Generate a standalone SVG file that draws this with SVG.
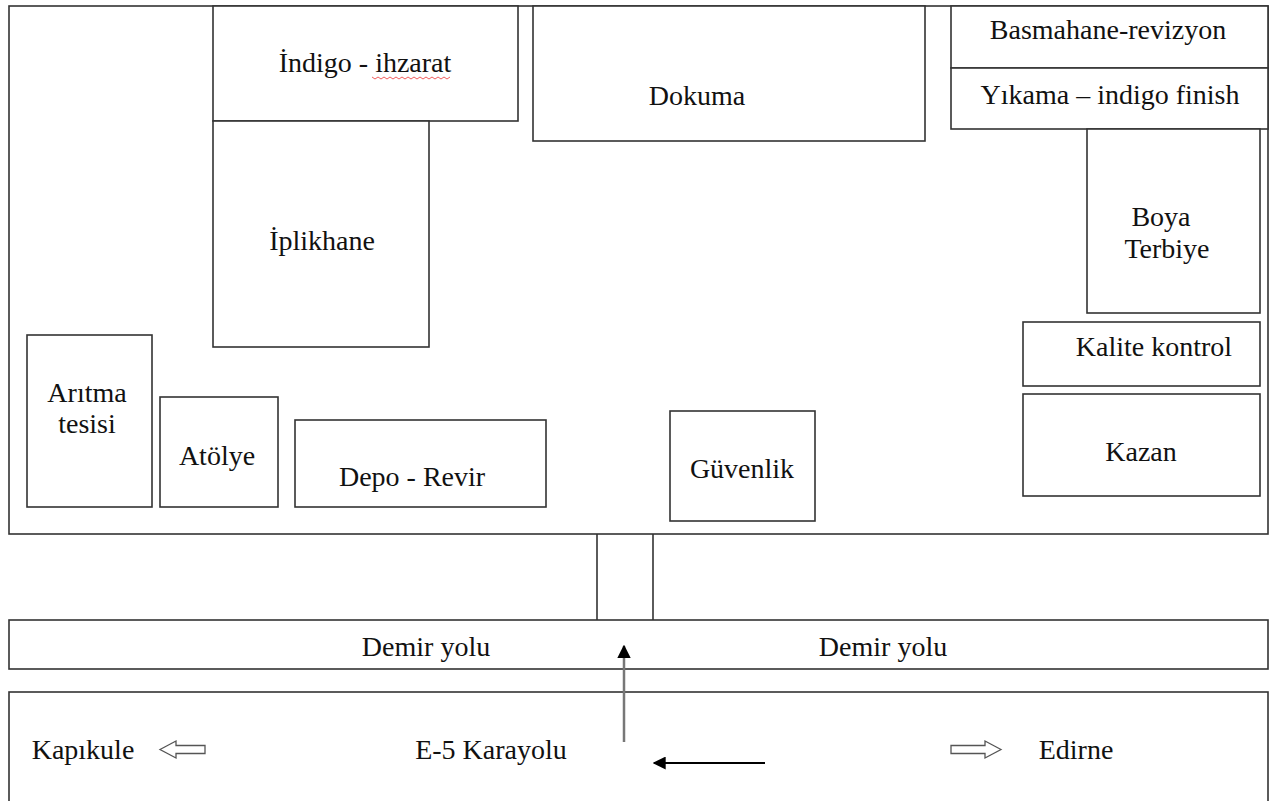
<svg xmlns="http://www.w3.org/2000/svg" width="1272" height="801" viewBox="0 0 1272 801">
<style>
.b{fill:#fff;stroke:#333;stroke-width:1.6}
.t{font-family:"Liberation Serif","Times New Roman",serif;font-size:28px;fill:#111;text-anchor:middle}
</style>
<defs>
<marker id="ah" viewBox="0 0 10 10" refX="9" refY="5" markerWidth="6.5" markerHeight="6.5" orient="auto-start-reverse" markerUnits="strokeWidth"><path d="M0,0 L10,5 L0,10 z" fill="#000"/></marker>
<marker id="ahg" viewBox="0 0 10 10" refX="9" refY="5" markerWidth="5.5" markerHeight="5.5" orient="auto-start-reverse" markerUnits="strokeWidth"><path d="M0,0 L10,5 L0,10 z" fill="#000"/></marker>
</defs>
<rect width="1272" height="801" fill="#fff"/>
<g id="site"><rect class="b" x="9" y="6" width="1259" height="528"/></g>
<g id="indigo"><rect class="b" x="213" y="6" width="305" height="115"/><text class="t" x="365" y="72">İndigo - ihzarat</text><path d="M372,77 l3,2 l3,-2 l3,2 l3,-2 l3,2 l3,-2 l3,2 l3,-2 l3,2 l3,-2 l3,2 l3,-2 l3,2 l3,-2 l3,2 l3,-2 l3,2 l3,-2 l3,2 l3,-2 l3,2 l3,-2 l3,2 l3,-2 l3,2 l3,-2" fill="none" stroke="#e33" stroke-width="0.8"/></g>
<g id="iplikhane"><rect class="b" x="213" y="121" width="216" height="226"/><text class="t" x="322" y="250">İplikhane</text></g>
<g id="dokuma"><rect class="b" x="533" y="6" width="392" height="135"/><text class="t" x="697" y="105">Dokuma</text></g>
<g id="basmahane"><rect class="b" x="951" y="6" width="317" height="62"/><text class="t" x="1108" y="39">Basmahane-revizyon</text></g>
<g id="yikama"><rect class="b" x="951" y="68" width="317" height="61"/><text class="t" x="1110" y="104">Yıkama – indigo finish</text></g>
<g id="boya"><rect class="b" x="1087" y="129" width="173" height="184"/><text class="t" x="1161" y="226">Boya</text><text class="t" x="1167" y="258">Terbiye</text></g>
<g id="kalite"><rect class="b" x="1023" y="322" width="237" height="64"/><text class="t" x="1154" y="356">Kalite kontrol</text></g>
<g id="kazan"><rect class="b" x="1023" y="394" width="237" height="102"/><text class="t" x="1141" y="461">Kazan</text></g>
<g id="aritma"><rect class="b" x="27" y="335" width="125" height="172"/><text class="t" x="87" y="402">Arıtma</text><text class="t" x="87" y="433">tesisi</text></g>
<g id="atolye"><rect class="b" x="160" y="397" width="118" height="110"/><text class="t" x="217" y="465">Atölye</text></g>
<g id="depo"><rect class="b" x="295" y="420" width="251" height="87"/><text class="t" x="412" y="486">Depo - Revir</text></g>
<g id="guvenlik"><rect class="b" x="670" y="411" width="145" height="110"/><text class="t" x="742" y="478">Güvenlik</text></g>
<g id="gate"><line x1="597" y1="534" x2="597" y2="620" stroke="#333" stroke-width="1.6"/><line x1="653" y1="534" x2="653" y2="620" stroke="#333" stroke-width="1.6"/></g>
<g id="demiryolu"><rect class="b" x="9" y="620" width="1259" height="49"/><text class="t" x="426" y="656">Demir yolu</text><text class="t" x="883" y="656">Demir yolu</text></g>
<g id="karayolu"><rect class="b" x="9" y="692" width="1259" height="120"/><text class="t" x="83" y="759">Kapıkule</text><text class="t" x="491" y="759">E-5 Karayolu</text><text class="t" x="1076" y="759">Edirne</text>
<polygon points="160,749.5 176,741 176,745.5 205,745.5 205,753.5 176,753.5 176,758" fill="#fff" stroke="#555" stroke-width="1.3"/>
<polygon points="1001,749.5 985,741 985,745.5 951,745.5 951,753.5 985,753.5 985,758" fill="#fff" stroke="#555" stroke-width="1.3"/></g>
<g id="connectors">
<line x1="624" y1="742" x2="624" y2="646" stroke="#777" stroke-width="2.5" marker-end="url(#ahg)"/>
<line x1="765" y1="763" x2="654" y2="763" stroke="#000" stroke-width="2" marker-end="url(#ah)"/>
</g>
</svg>
